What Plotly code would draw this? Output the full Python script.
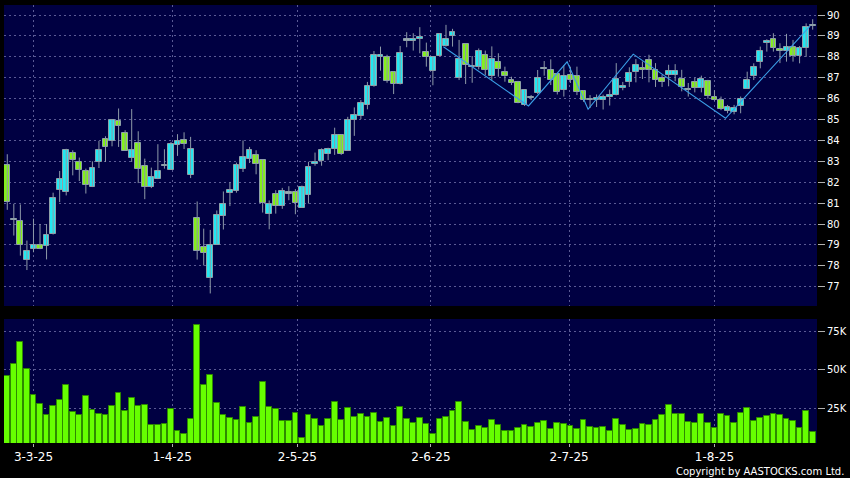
import plotly.graph_objects as go

# ---------------- data ----------------
opens = [82.84, 80.2, 80.15, 78.26, 78.81, 79.0, 78.95, 79.53, 81.64, 81.54,
         83.42, 82.95, 82.52, 81.77, 82.97, 84.09, 83.98, 84.95, 84.38, 83.18,
         83.9, 82.79, 81.77, 82.15, 82.78, 82.6, 83.8, 84.0, 82.36, 80.3,
         78.89, 77.42, 79.0, 80.39, 81.48, 81.6, 82.65, 83.11, 83.32, 83.08,
         80.49, 81.43, 80.85, 81.46, 81.51, 80.79, 81.41, 82.88, 83.0, 83.33,
         83.58, 84.24, 83.5, 85.0, 85.18, 85.71, 86.6, 87.98, 87.98, 87.26,
         86.68, 88.78, 88.74, 88.86, 88.25, 87.34, 88.04, 88.52, 89.0, 86.97,
         88.6, 87.5, 87.5, 88.09, 87.08, 87.77, 87.26, 86.88, 86.81, 85.69,
         86.04, 86.25, 87.4, 87.35, 87.18, 86.41, 87.13, 87.1, 86.38, 85.93,
         85.93, 85.95, 86.08, 86.16, 86.5, 86.81, 87.27, 87.49, 87.83, 87.38,
         86.97, 87.14, 87.11, 86.95, 86.4, 86.78, 86.51, 86.84, 86.08, 85.95,
         85.41, 85.35, 85.67, 86.46, 87.1, 87.74, 88.65, 88.84, 88.36, 88.28,
         88.49, 88.06, 88.41, 89.47]
highs = [83.34, 80.97, 80.94, 79.21, 80.26, 80.0, 80.0, 81.5, 82.54, 83.6,
         83.53, 83.18, 82.65, 83.0, 83.98, 84.2, 85.0, 85.53, 84.49, 85.5,
         84.44, 83.13, 82.7, 83.82, 83.58, 83.93, 84.3, 84.39, 84.17, 81.08,
         79.78, 79.72, 80.65, 81.56, 82.0, 82.94, 84.0, 83.69, 83.53, 83.1,
         81.13, 81.62, 81.73, 81.81, 81.67, 81.84, 82.98, 83.42, 83.62, 83.65,
         84.61, 84.24, 85.13, 85.58, 85.93, 86.8, 88.28, 88.49, 88.1, 87.26,
         88.52, 89.18, 89.13, 89.42, 88.68, 88.01, 89.13, 89.53, 89.34, 88.81,
         88.6, 88.04, 88.4, 88.3, 88.5, 88.17, 87.53, 87.05, 86.85, 86.4,
         86.17, 87.37, 87.8, 87.88, 87.2, 87.6, 87.53, 87.53, 86.4, 86.17,
         86.2, 86.19, 86.43, 87.7, 86.8, 87.5, 87.89, 87.78, 88.1, 87.7,
         87.14, 87.62, 87.65, 87.38, 86.75, 87.0, 87.1, 86.9, 86.4, 86.1,
         85.7, 85.7, 86.1, 87.29, 87.69, 88.49, 88.84, 89.13, 88.65, 89.1,
         88.81, 88.52, 89.6, 89.8]
lows = [80.68, 79.45, 78.49, 77.8, 78.65, 78.8, 78.31, 79.5, 81.05, 81.37,
        82.33, 82.06, 81.46, 81.77, 82.68, 82.97, 83.72, 83.69, 83.5, 82.97,
        81.96, 81.19, 81.72, 82.15, 82.65, 82.6, 83.26, 83.59, 82.2, 78.3,
        78.02, 76.68, 79.0, 79.74, 80.86, 81.5, 82.49, 82.92, 82.38, 80.55,
        79.75, 80.5, 80.73, 81.14, 80.47, 80.79, 80.98, 82.79, 82.79, 83.06,
        83.31, 83.31, 83.5, 84.22, 85.02, 85.49, 86.57, 87.34, 86.76, 86.22,
        86.68, 88.46, 88.3, 88.17, 87.53, 86.64, 88.04, 88.49, 88.49, 86.89,
        86.7, 86.76, 87.4, 87.13, 86.9, 87.05, 86.81, 86.65, 85.78, 85.65,
        85.93, 86.22, 87.1, 86.65, 86.2, 86.1, 86.75, 86.17, 85.85, 85.55,
        85.6, 85.48, 85.67, 86.16, 86.4, 86.56, 86.78, 86.94, 86.78, 86.56,
        86.56, 86.59, 86.83, 86.35, 86.1, 86.3, 86.3, 86.0, 85.9, 85.45,
        85.3, 85.25, 85.3, 86.46, 86.89, 87.45, 88.25, 88.25, 87.7, 87.77,
        87.77, 87.69, 88.0, 89.3]
closes = [81.05, 80.2, 78.98, 78.71, 79.0, 78.81, 79.48, 81.26, 82.15, 83.56,
          83.05, 82.57, 81.86, 82.7, 83.53, 83.69, 85.0, 84.7, 83.5, 83.56,
          82.63, 81.77, 82.25, 82.55, 82.78, 83.82, 83.99, 83.83, 83.61, 78.7,
          78.6, 79.0, 80.44, 80.97, 81.64, 82.84, 83.21, 83.56, 82.89, 81.0,
          80.97, 80.85, 81.6, 81.46, 81.01, 81.75, 82.71, 82.98, 83.52, 83.57,
          84.24, 83.36, 85.0, 85.2, 85.77, 86.59, 88.07, 88.07, 86.86, 86.68,
          88.17, 88.78, 88.84, 88.95, 87.98, 88.01, 89.08, 88.84, 89.18, 87.88,
          87.61, 87.5, 88.3, 87.37, 87.88, 87.4, 87.08, 86.73, 85.81, 86.4,
          86.04, 86.97, 87.48, 86.89, 86.33, 87.1, 86.89, 86.33, 85.93, 85.93,
          86.01, 86.08, 86.17, 86.95, 86.6, 87.25, 87.62, 87.38, 87.38, 86.87,
          86.81, 87.33, 87.33, 86.56, 86.4, 86.51, 86.95, 86.11, 85.95, 85.52,
          85.59, 85.56, 85.97, 86.89, 87.5, 88.3, 88.78, 88.41, 88.3, 88.46,
          88.06, 88.41, 89.45, 89.5]
volumes = [46200, 53800, 67900, 50300, 33600, 27600, 20700, 26300, 30600, 40100,
           22400, 20400, 32800, 23700, 21300, 20700, 26700, 35000, 23500, 31900,
           26300, 27200, 14400, 13900, 14800, 24300, 10000, 8500, 18300, 79100,
           40400, 46400, 28700, 20400, 18500, 17200, 25600, 15700, 19400, 42100,
           25600, 24300, 17000, 16800, 22200, 5700, 20900, 17800, 13500, 18100,
           29300, 17200, 25000, 19600, 21500, 19400, 22200, 16300, 18500, 13500,
           25900, 18300, 15200, 18700, 14600, 8300, 17800, 19600, 23300, 29300,
           16100, 10900, 13500, 12000, 17200, 14200, 10000, 10300, 12400, 14400,
           12900, 15500, 16500, 11400, 15500, 15000, 13500, 11600, 17400, 13100,
           12000, 12600, 10300, 17800, 13900, 11100, 11800, 14600, 14400, 17600,
           20900, 27000, 21500, 21100, 15900, 15500, 21300, 15700, 12400, 21300,
           20200, 15700, 22000, 25200, 16800, 18500, 19800, 21300, 20900, 18100,
           16800, 12400, 23000, 9800]

# zig-zag indicator vertices (candle index, price)
zz_idx = [66.6, 79.6, 85.5, 88.7, 95.6, 109.7, 122.6]
zz_price = [88.48, 85.65, 87.76, 85.49, 88.13, 85.06, 89.47]

tick_text = ["3-3-25", "1-4-25", "2-5-25", "2-6-25", "2-7-25", "1-8-25"]
tick_idx = [4.0, 25.2, 44.3, 64.7, 85.8, 108.0]

price_ticks = list(range(77, 91))
vol_ticks = [25000, 50000, 75000]
vol_tick_text = ["25K", "50K", "75K"]

# ---------------- styling ----------------
UP = "#22e8f2"
DOWN = "#84f01c"
FLAT = "#9aaab4"
NAVY = "#000042"
GRID = "#5a5a94"
FONT = "DejaVu Sans"

idx = list(range(len(opens)))
body_base = [min(o, c) for o, c in zip(opens, closes)]
body_h = [max(abs(c - o), 0.05) for o, c in zip(opens, closes)]
body_col = [UP if c > o else (DOWN if c < o else FLAT) for o, c in zip(opens, closes)]

wick_x, wick_y = [], []
for i, h, l in zip(idx, highs, lows):
    wick_x += [i, i, None]
    wick_y += [l, h, None]

fig = go.Figure()
fig.add_trace(go.Scatter(x=wick_x, y=wick_y, mode="lines",
                         line=dict(color="#8e9aa8", width=1),
                         hoverinfo="skip", xaxis="x", yaxis="y"))
fig.add_trace(go.Bar(x=idx, y=body_h, base=body_base, width=0.88,
                     marker=dict(color=body_col, line=dict(color="#8ea0a8", width=1)),
                     xaxis="x", yaxis="y"))
fig.add_trace(go.Scatter(x=zz_idx, y=zz_price, mode="lines",
                         line=dict(color="#3a9ee6", width=1.1),
                         xaxis="x", yaxis="y"))
fig.add_trace(go.Bar(x=idx, y=volumes, width=0.88,
                     marker=dict(color="#66ff00", line=dict(color="#2e8a00", width=1)),
                     xaxis="x2", yaxis="y2"))

xr = [-0.5, 123.66]
common_x = dict(range=xr, tickvals=tick_idx, showgrid=True, gridcolor=GRID,
                griddash="2px,3px", gridwidth=1, zeroline=False, showline=False,
                fixedrange=True)
xfont = dict(family=FONT, size=12, color="white")
yfont = dict(family=FONT, size=10, color="white")

fig.update_layout(
    width=850, height=478,
    margin=dict(l=4, r=33, t=5, b=35),
    paper_bgcolor="black", plot_bgcolor=NAVY,
    showlegend=False, bargap=0,
    font=xfont,
    xaxis=dict(domain=[0, 1], anchor="y", showticklabels=False, ticks="", **common_x),
    xaxis2=dict(domain=[0, 1], anchor="y2", ticktext=tick_text, ticks="outside",
                ticklen=3, tickcolor="#b0b0b0", tickfont=xfont, **common_x),
    yaxis=dict(domain=[0.3128, 1], anchor="x", range=[76.08, 90.48], side="right",
               tickvals=price_ticks, ticks="outside", ticklen=7, tickcolor="#b0b0b0",
               tickfont=yfont,
               showgrid=True, gridcolor=GRID, griddash="2px,3px", zeroline=False,
               fixedrange=True),
    yaxis2=dict(domain=[0, 0.2831], anchor="x2", range=[2500, 83000], side="right",
                tickvals=vol_ticks, ticktext=vol_tick_text, ticks="outside", ticklen=7,
                tickcolor="#b0b0b0", tickfont=yfont,
                showgrid=True, gridcolor=GRID, griddash="2px,3px", zeroline=False,
                fixedrange=True),
    annotations=[dict(text="Copyright by AASTOCKS.com Ltd.", xref="paper", yref="paper",
                      x=1.0357, y=-0.064, xanchor="right", yanchor="middle",
                      showarrow=False, font=dict(family=FONT, size=10, color="white"))],
)

fig.write_html("out.html", config={"displayModeBar": False},
               post_script="document.body.style.margin='0';document.body.style.background='black';")
